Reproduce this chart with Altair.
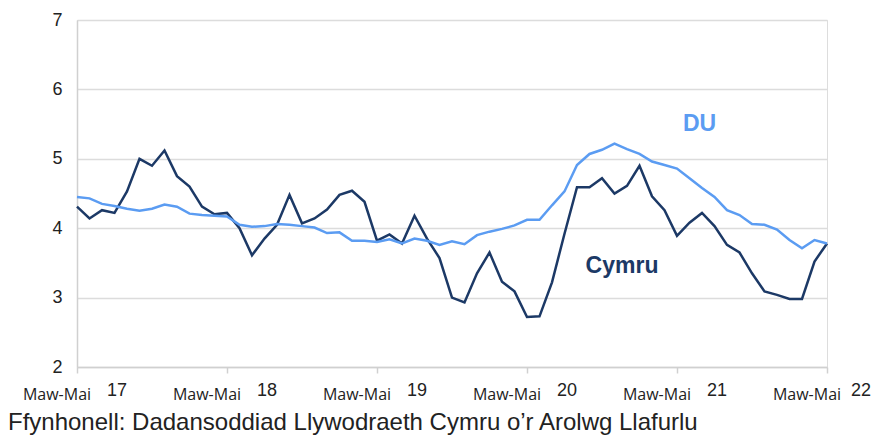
import altair as alt
import pandas as pd

# Monthly rolling periods, Maw-Mai 2017 .. Maw-Mai 2022 (index 0..60)
cymru = [4.31, 4.14, 4.26, 4.22, 4.53, 5.00, 4.90, 5.12, 4.75, 4.60,
         4.31, 4.20, 4.22, 4.00, 3.61, 3.85, 4.05, 4.48, 4.07, 4.14,
         4.27, 4.48, 4.54, 4.38, 3.82, 3.91, 3.78, 4.18, 3.85, 3.57,
         3.00, 2.93, 3.35, 3.65, 3.23, 3.09, 2.72, 2.73, 3.22, 3.92,
         4.59, 4.59, 4.72, 4.50, 4.61, 4.90, 4.46, 4.26, 3.89, 4.08,
         4.22, 4.03, 3.76, 3.65, 3.35, 3.09, 3.04, 2.98, 2.98, 3.52,
         3.78]
du = [4.45, 4.43, 4.35, 4.32, 4.28, 4.25, 4.28, 4.34, 4.31, 4.21,
      4.19, 4.18, 4.17, 4.05, 4.02, 4.03, 4.06, 4.05, 4.03, 4.01,
      3.93, 3.94, 3.82, 3.82, 3.80, 3.84, 3.78, 3.85, 3.82, 3.76,
      3.81, 3.77, 3.90, 3.95, 3.99, 4.04, 4.12, 4.12, 4.33, 4.53,
      4.91, 5.07, 5.13, 5.22, 5.14, 5.07, 4.96, 4.91, 4.86, 4.72,
      4.58, 4.45, 4.26, 4.19, 4.06, 4.05, 3.98, 3.83, 3.71, 3.83,
      3.78]
tick_pos = [0, 12, 24, 36, 48, 60]
tick_period = ["Maw-Mai"] * 6
tick_year = ["17", "18", "19", "20", "21", "22"]
y_ticks = [2, 3, 4, 5, 6, 7]

series_names = ["Cymru", "DU"]
series_colors = ["#1c3966", "#5b9cf2"]

label_text = ["DU", "Cymru"]
label_x = [49.8, 43.6]
label_y = [5.50, 3.455]
label_col = ["#5b9cf2", "#1c3966"]

source = "Ffynhonell: Dadansoddiad Llywodraeth Cymru o\u2019r Arolwg Llafurlu"

n = len(cymru)
df = pd.DataFrame({
    "i": list(range(n)) * 2,
    "v": cymru + du,
    "s": ["Cymru"] * n + ["DU"] * n,
})
ticks_df = pd.DataFrame({"i": tick_pos, "p": tick_period, "yr": tick_year})
yr_main = ticks_df.iloc[:-1]
yr_last = ticks_df.iloc[-1:]
lab_df = pd.DataFrame({"x": label_x, "y": label_y, "t": label_text, "c": label_col})

W, H = 750, 347

xscale = alt.Scale(domain=[0, 60], nice=False, zero=False)
yscale = alt.Scale(domain=[2, 7], nice=False, zero=False)

lines = alt.Chart(df).mark_line(strokeWidth=2.5, strokeJoin="miter").encode(
    x=alt.X("i:Q", scale=xscale,
            axis=alt.Axis(values=tick_pos, labels=False, grid=False, ticks=True,
                          tickSize=6, tickColor="#d0d0d0", tickWidth=1.5,
                          domainColor="#d0d0d0", domainWidth=1.5, title=None)),
    y=alt.Y("v:Q", scale=yscale,
            axis=alt.Axis(values=y_ticks, format="d", grid=True, gridColor="#dcdcdc", gridWidth=1.5,
                          ticks=False, labelFontSize=18, labelFont="Liberation Sans",
                          labelColor="#222222", labelPadding=15,
                          domainColor="#d0d0d0", domainWidth=1.5, title=None)),
    color=alt.Color("s:N", scale=alt.Scale(domain=series_names, range=series_colors), legend=None),
    detail="s:N",
)

per_txt = alt.Chart(ticks_df).mark_text(
    dx=-20, baseline="alphabetic", align="center", font="Open Sans", fontSize=16, color="#222222"
).encode(x=alt.X("i:Q", scale=xscale), y=alt.value(380), text="p:N")

yr_txt = alt.Chart(yr_main).mark_text(
    dx=40, baseline="alphabetic", align="center", font="Liberation Sans", fontSize=18, color="#222222"
).encode(x=alt.X("i:Q", scale=xscale), y=alt.value(376), text="yr:N")

yr_txt_last = alt.Chart(yr_last).mark_text(
    dx=34, baseline="alphabetic", align="center", font="Liberation Sans", fontSize=18, color="#222222"
).encode(x=alt.X("i:Q", scale=xscale), y=alt.value(376), text="yr:N")

lab_txt = alt.Chart(lab_df).mark_text(
    font="Liberation Sans", fontSize=23, fontWeight="bold", baseline="middle", align="center"
).encode(
    x=alt.X("x:Q", scale=xscale), y=alt.Y("y:Q", scale=yscale), text="t:N",
    color=alt.Color("c:N", scale=None),
)

src_df = pd.DataFrame({"t": [source]})
src_txt = alt.Chart(src_df).mark_text(
    font="Liberation Sans", fontSize=24, baseline="alphabetic", align="left", color="#222222"
).encode(x=alt.value(-69), y=alt.value(410), text="t:N")

chart = alt.layer(lines, per_txt, yr_txt, yr_txt_last, lab_txt, src_txt).properties(
    width=W, height=H,
    autosize=alt.AutoSizeParams(type="none"),
    padding={"left": 69, "top": 12, "right": 45, "bottom": 69},
).configure_view(stroke=None).configure(background="white")

chart.save("out.html", embed_options={"renderer": "svg", "actions": False})
